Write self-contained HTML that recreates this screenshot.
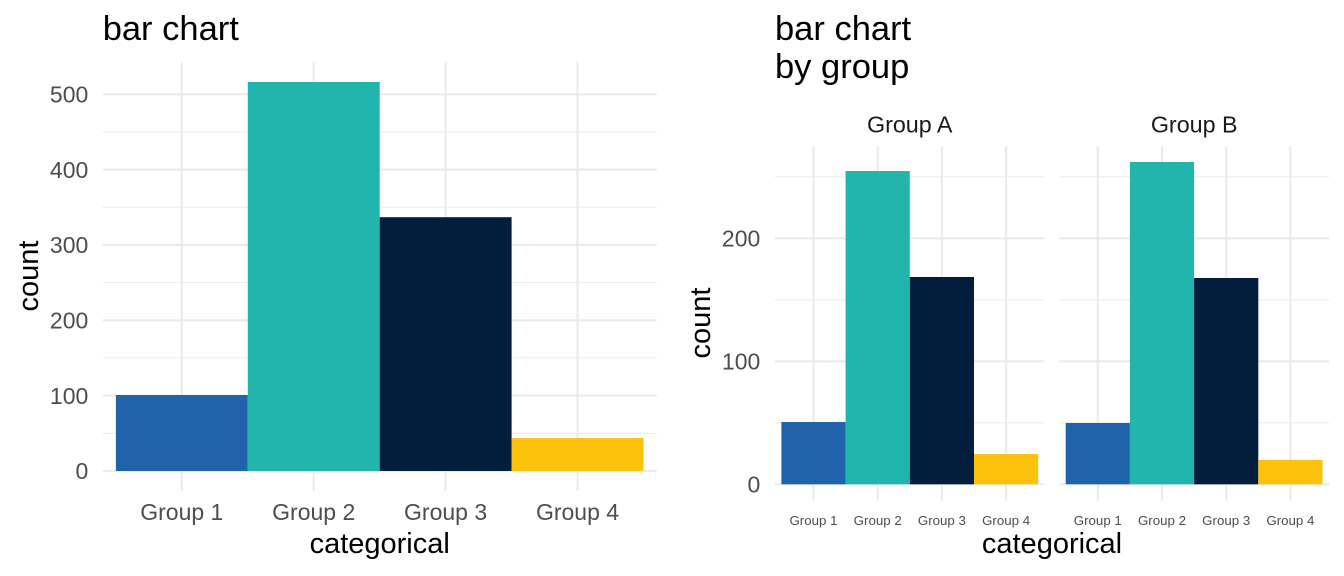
<!DOCTYPE html>
<html>
<head>
<meta charset="utf-8">
<style>
html,body{margin:0;padding:0;background:#fff;}
svg{display:block;}
text{font-family:"Liberation Sans",Arial,sans-serif;}
</style>
</head>
<body>
<svg width="1344" height="576" viewBox="0 0 1344 576" xmlns="http://www.w3.org/2000/svg">
<rect width="1344" height="576" fill="#fff"/>

<!-- LEFT CHART -->
<g stroke="#EBEBEB" fill="none">
  <g stroke-width="1.07">
    <line x1="102.7" x2="656.7" y1="433.3" y2="433.3"/>
    <line x1="102.7" x2="656.7" y1="357.9" y2="357.9"/>
    <line x1="102.7" x2="656.7" y1="282.6" y2="282.6"/>
    <line x1="102.7" x2="656.7" y1="207.2" y2="207.2"/>
    <line x1="102.7" x2="656.7" y1="131.9" y2="131.9"/>
  </g>
  <g stroke-width="2.13">
    <line x1="102.7" x2="656.7" y1="471" y2="471"/>
    <line x1="102.7" x2="656.7" y1="395.6" y2="395.6"/>
    <line x1="102.7" x2="656.7" y1="320.3" y2="320.3"/>
    <line x1="102.7" x2="656.7" y1="244.9" y2="244.9"/>
    <line x1="102.7" x2="656.7" y1="169.6" y2="169.6"/>
    <line x1="102.7" x2="656.7" y1="94.3" y2="94.3"/>
    <line x1="181.8" x2="181.8" y1="62" y2="490.7"/>
    <line x1="313.7" x2="313.7" y1="62" y2="490.7"/>
    <line x1="445.6" x2="445.6" y1="62" y2="490.7"/>
    <line x1="577.5" x2="577.5" y1="62" y2="490.7"/>
  </g>
</g>
<rect x="115.9" y="395" width="131.9" height="76" fill="#2163AA"/>
<rect x="247.8" y="82" width="131.9" height="389" fill="#22B5AD"/>
<rect x="379.7" y="217.2" width="131.9" height="253.8" fill="#031E3C"/>
<rect x="511.6" y="438" width="131.9" height="33" fill="#FDC20D"/>

<g font-size="23" fill="#4D4D4D" text-anchor="end">
  <text x="88.3" y="479.2">0</text>
  <text x="88.3" y="403.8">100</text>
  <text x="88.3" y="328.5">200</text>
  <text x="88.3" y="253.1">300</text>
  <text x="88.3" y="177.8">400</text>
  <text x="88.3" y="102.5">500</text>
</g>
<g font-size="23" fill="#4D4D4D" text-anchor="middle">
  <text x="181.8" y="520">Group 1</text>
  <text x="313.7" y="520">Group 2</text>
  <text x="445.6" y="520">Group 3</text>
  <text x="577.5" y="520">Group 4</text>
</g>
<text x="102.7" y="40" font-size="34.5" fill="#000">bar chart</text>
<text x="379.7" y="553" font-size="29" fill="#000" text-anchor="middle">categorical</text>
<text transform="translate(38,276) rotate(-90)" font-size="29" fill="#000" text-anchor="middle">count</text>

<!-- RIGHT CHART -->
<g stroke="#EBEBEB" fill="none">
  <g stroke-width="1.07">
    <line x1="775" x2="1044.3" y1="422.8" y2="422.8"/>
    <line x1="775" x2="1044.3" y1="299.8" y2="299.8"/>
    <line x1="775" x2="1044.3" y1="176.8" y2="176.8"/>
    <line x1="1059.3" x2="1329" y1="422.8" y2="422.8"/>
    <line x1="1059.3" x2="1329" y1="299.8" y2="299.8"/>
    <line x1="1059.3" x2="1329" y1="176.8" y2="176.8"/>
  </g>
  <g stroke-width="2.13">
    <line x1="775" x2="1044.3" y1="484.3" y2="484.3"/>
    <line x1="775" x2="1044.3" y1="361.3" y2="361.3"/>
    <line x1="775" x2="1044.3" y1="238.3" y2="238.3"/>
    <line x1="1059.3" x2="1329" y1="484.3" y2="484.3"/>
    <line x1="1059.3" x2="1329" y1="361.3" y2="361.3"/>
    <line x1="1059.3" x2="1329" y1="238.3" y2="238.3"/>
    <line x1="813.5" x2="813.5" y1="146" y2="500.7"/>
    <line x1="877.7" x2="877.7" y1="146" y2="500.7"/>
    <line x1="941.9" x2="941.9" y1="146" y2="500.7"/>
    <line x1="1006.1" x2="1006.1" y1="146" y2="500.7"/>
    <line x1="1097.8" x2="1097.8" y1="146" y2="500.7"/>
    <line x1="1162" x2="1162" y1="146" y2="500.7"/>
    <line x1="1226.2" x2="1226.2" y1="146" y2="500.7"/>
    <line x1="1290.4" x2="1290.4" y1="146" y2="500.7"/>
  </g>
</g>
<rect x="781.4" y="422" width="64.2" height="62.3" fill="#2163AA"/>
<rect x="845.6" y="171" width="64.2" height="313.3" fill="#22B5AD"/>
<rect x="909.8" y="277" width="64.2" height="207.3" fill="#031E3C"/>
<rect x="974" y="454" width="64.2" height="30.3" fill="#FDC20D"/>
<rect x="1065.7" y="423" width="64.2" height="61.3" fill="#2163AA"/>
<rect x="1129.9" y="162" width="64.2" height="322.3" fill="#22B5AD"/>
<rect x="1194.1" y="278" width="64.2" height="206.3" fill="#031E3C"/>
<rect x="1258.3" y="460" width="64.2" height="24.3" fill="#FDC20D"/>

<g font-size="23" fill="#4D4D4D" text-anchor="end">
  <text x="760.3" y="492.5">0</text>
  <text x="760.3" y="369.5">100</text>
  <text x="760.3" y="246.5">200</text>
</g>
<g font-size="13.3" fill="#4D4D4D" text-anchor="middle">
  <text x="813.5" y="525">Group 1</text>
  <text x="877.7" y="525">Group 2</text>
  <text x="941.9" y="525">Group 3</text>
  <text x="1006.1" y="525">Group 4</text>
  <text x="1097.8" y="525">Group 1</text>
  <text x="1162" y="525">Group 2</text>
  <text x="1226.2" y="525">Group 3</text>
  <text x="1290.4" y="525">Group 4</text>
</g>
<g font-size="23.3" fill="#1A1A1A" text-anchor="middle">
  <text x="909.7" y="132.3">Group A</text>
  <text x="1194.2" y="132.3">Group B</text>
</g>
<text x="775" y="40" font-size="34.5" fill="#000">bar chart</text>
<text x="775" y="78" font-size="34.5" fill="#000">by group</text>
<text x="1052" y="553" font-size="29" fill="#000" text-anchor="middle">categorical</text>
<text transform="translate(710,323) rotate(-90)" font-size="29" fill="#000" text-anchor="middle">count</text>
</svg>
</body>
</html>
